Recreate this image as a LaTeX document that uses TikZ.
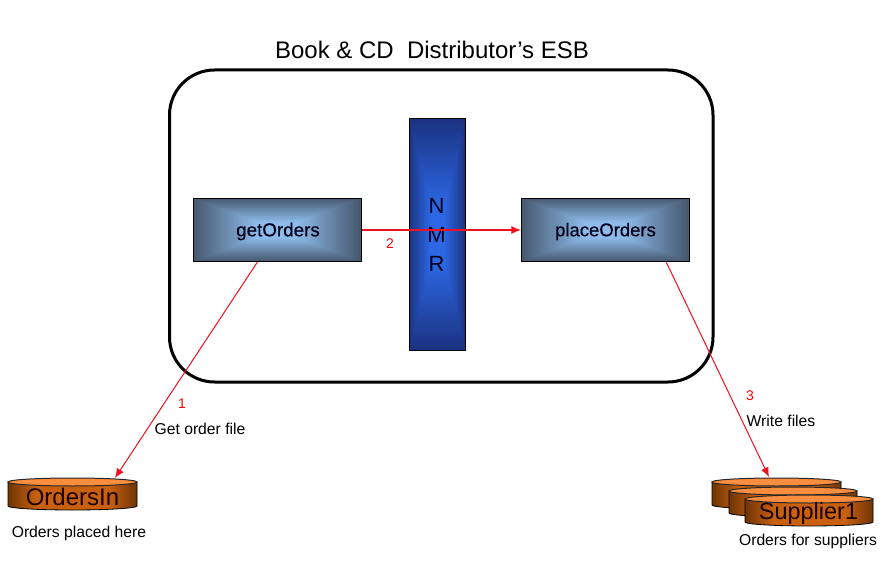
\documentclass[tikz,border=0pt]{standalone}
\usepackage{fontspec}
\setmainfont{Liberation Sans}
\newfontfamily\heavier[FakeBold=0.35]{Liberation Sans}
\usetikzlibrary{calc,arrows.meta}
\definecolor{boxdark}{HTML}{46586E}
\definecolor{boxlight}{HTML}{8DBBEA}
\definecolor{busdark}{HTML}{1B3282}
\definecolor{buslight}{HTML}{2C68E4}
\definecolor{drumdark}{HTML}{6E3404}
\definecolor{drummid}{HTML}{C9600F}
\definecolor{drumtop}{HTML}{FB8E3E}
\definecolor{linkred}{HTML}{F0101E}
\pgfdeclarehorizontalshading{drumbody}{100bp}{
  color(0bp)=(drumdark); color(25bp)=(drumdark); color(36bp)=(drummid);
  color(64bp)=(drummid); color(75bp)=(drumdark); color(100bp)=(drumdark)}
\newcommand{\fsz}[1]{\fontsize{#1}{#1}\selectfont}
\newcommand{\glowrect}[6]{%
  \foreach \st in {0,...,40}{%
    \pgfmathsetmacro{\tt}{\st/40}%
    \pgfmathsetmacro{\pc}{min(100,100*\tt/0.75)}%
    \pgfmathsetmacro{\xa}{#1+\tt*(#3-#1)/2}%
    \pgfmathsetmacro{\xb}{#3-\tt*(#3-#1)/2}%
    \pgfmathsetmacro{\ya}{#2+\tt*(#4-#2)/2}%
    \pgfmathsetmacro{\yb}{#4-\tt*(#4-#2)/2}%
    \fill[#6!\pc!#5] (\xa,\ya) rectangle (\xb,\yb);
  }%
}
\newcommand{\drumshape}[4]{%
  \pgfmathsetmacro{\rx}{(#2-#1)/2}%
  \shade[shading=drumbody,draw=black,line width=0.8pt]
    (#1,#3+4) -- (#1,#4-4) arc[start angle=180,end angle=360,x radius=\rx pt,y radius=4pt] -- (#2,#3+4) -- cycle;
  \draw[fill=drumtop,draw=black!85,line width=1pt] ({(#1+#2)/2},#3+4) ellipse[x radius=\rx pt,y radius=4pt];
}
\tikzset{
  small/.style={font=\fsz{15.7},text=black,inner sep=0pt},
  redlabel/.style={font=\fsz{14},text=red,inner sep=0pt},
  module/.style={draw=black,line width=1pt,inner sep=0pt,minimum width=168pt,minimum height=63.5pt},
  modtext/.style={inner sep=0pt,text=black!90!blue},
  link/.style={draw=linkred,line width=1pt,-{Latex[length=9.5pt,width=8pt]}},
  drumlabel/.style={inner sep=0pt,text=black!90!red}
}
\begin{document}
\begin{tikzpicture}[x=1pt,y=-1pt]
\useasboundingbox[fill=white] (0,0) rectangle (895,567);
\node[font=\fsz{24},inner sep=0pt] (title) at (432,50) {Book \& CD\ \ Distributor’s ESB};
\draw[line width=3pt,rounded corners=45pt] (169.5,70) rectangle (713,382);

\glowrect{193}{198}{361}{262}{boxdark}{boxlight}
\node[module] (get) at (277.3,230) {};
\node[modtext,font=\fsz{18.8}\heavier] (getlabel) at (278,231.5) {getOrders};
\glowrect{521}{198}{689}{262}{boxdark}{boxlight}
\node[module] (place) at (605.3,230) {};
\node[modtext,font=\fsz{18.5}\heavier] (placelabel) at (605.5,231.5) {placeOrders};
\glowrect{409}{118}{466}{351}{busdark}{buslight}
\node[draw=black,line width=1pt,minimum width=56.5pt,minimum height=232pt,inner sep=0pt] (bus) at (437.5,234.5) {};
\node[font=\fsz{22},align=center,inner sep=0pt,text=black!90!blue] (nmr) at (436.5,235) {N\\[7pt]M\\[7pt]R};

\drumshape{8}{137}{478}{510}
\node[font=\fsz{24},drumlabel] (in) at (72.5,497) {OrdersIn};
\drumshape{712}{841}{478}{509}
\drumshape{729}{857}{487}{517}
\drumshape{745}{873}{495}{526}
\node[font=\fsz{23.5},drumlabel] (sup) at (808.5,513.5) {Supplier1};

\coordinate (getout) at ($(get.south)+(-20,0)$);
\coordinate (inTop) at (115,478);
\coordinate (placeout) at ($(place.south)+(61,0)$);
\coordinate (supTop) at (769,477);
\draw[link] (getout) -- (inTop);
\draw[link] (get.east) -- (place.west);
\draw[link] (placeout) -- (supTop);

\node[redlabel] (n1) at (182,403.5) {1};
\node[small] (l1) at (200,428.5) {Get order file};
\node[redlabel] (n2) at (390,243.5) {2};
\node[redlabel] (n3) at (750,395.5) {3};
\node[small] (l3) at (781,420.5) {Write files};
\node[small] (c1) at (79,533) {Orders placed here};
\node[small] (c2) at (808,541) {Orders for suppliers};
\end{tikzpicture}
\end{document}
